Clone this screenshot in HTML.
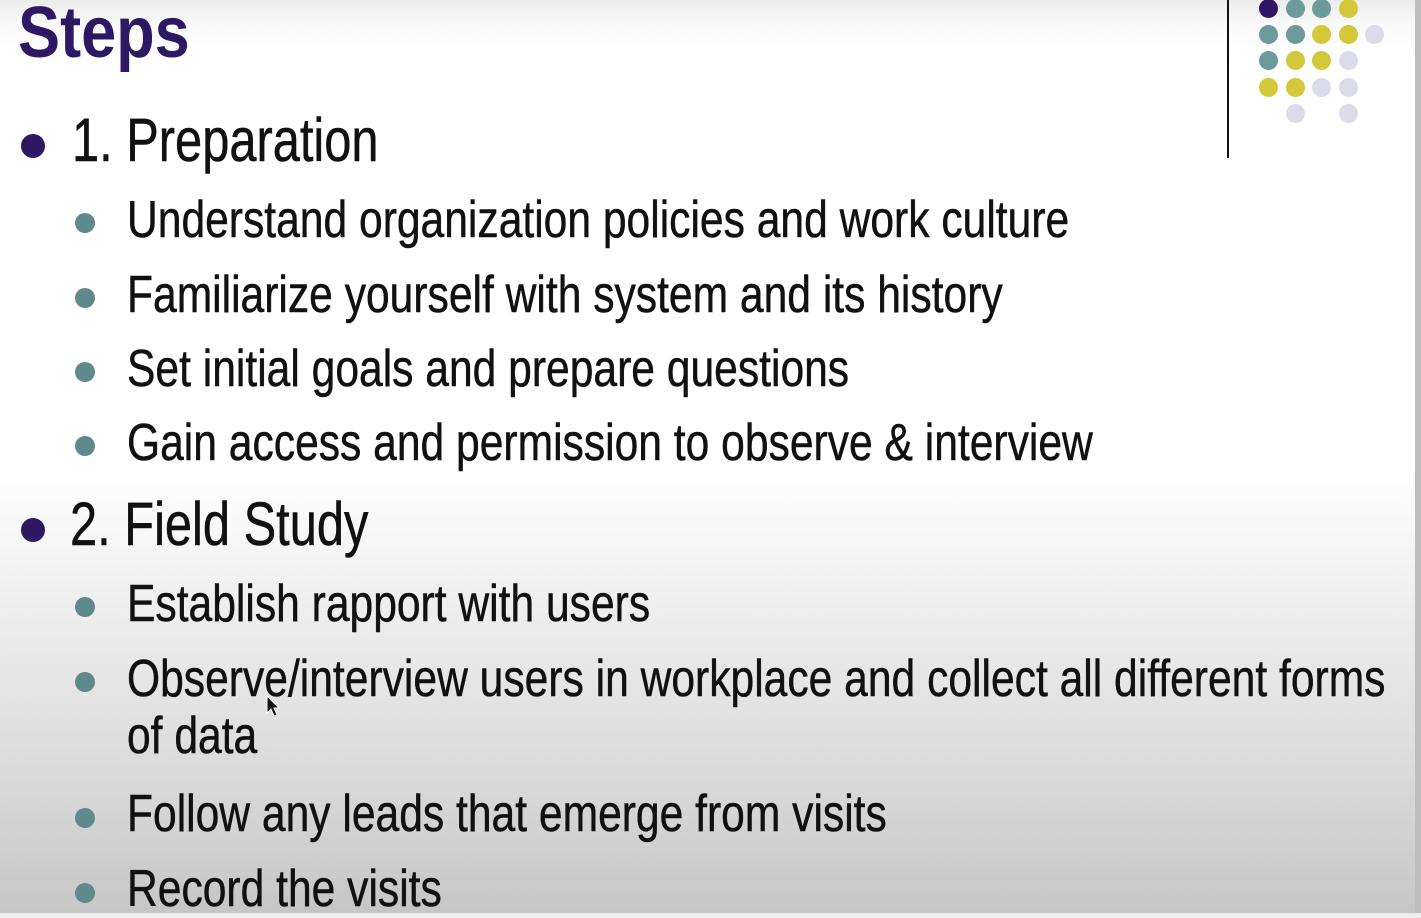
<!DOCTYPE html>
<html><head><meta charset="utf-8"><style>
html,body{margin:0;padding:0}
body{width:1421px;height:913px;position:relative;overflow:hidden;
background:linear-gradient(to bottom,#ececec 0px,#fafafa 25px,#ffffff 60px,#ffffff 470px,#efefef 600px,#dcdcdc 760px,#c6c6c6 913px);
font-family:"Liberation Sans",Arial,sans-serif;}
.t{position:absolute;white-space:nowrap;line-height:1;transform-origin:0 0;color:#111;-webkit-text-stroke:0.5px #111}
.title{font-size:72px;font-weight:bold;color:#2e1763;-webkit-text-stroke:0;transform:scaleX(0.876)}
.l1{font-size:61px;transform:scaleX(0.8)}
.l2{font-size:52px;transform:scaleX(0.819)}
.b1{position:absolute;width:24px;height:24px;border-radius:50%;background:#2e1763}
.b2{position:absolute;width:20px;height:20px;border-radius:50%;background:#5f8a8b}
.d{position:absolute;width:19px;height:19px;border-radius:50%}
</style></head><body>
<div class="t title" style="left:18px;top:-3px">Steps</div>
<div style="position:absolute;left:1227px;top:0;width:2px;height:158px;background:#111"></div>
<div id="dots"></div>
<div style="position:absolute;right:0;top:0;width:6px;height:913px;background:#bdbdbd"></div>

<div class="b1" style="left:21px;top:134px"></div>
<div class="t l1" style="left:72px;top:110px">1. Preparation</div>

<div class="b2" style="left:75px;top:213px"></div>
<div class="t l2" style="left:127px;top:194px">Understand organization policies and work culture</div>
<div class="b2" style="left:75px;top:288px"></div>
<div class="t l2" style="left:127px;top:269px">Familiarize yourself with system and its history</div>
<div class="b2" style="left:75px;top:362px"></div>
<div class="t l2" style="left:127px;top:343px">Set initial goals and prepare questions</div>
<div class="b2" style="left:75px;top:436px"></div>
<div class="t l2" style="left:127px;top:417px">Gain access and permission to observe &amp; interview</div>

<div class="b1" style="left:21px;top:518px"></div>
<div class="t l1" style="left:70px;top:494px">2. Field Study</div>

<div class="b2" style="left:75px;top:597px"></div>
<div class="t l2" style="left:127px;top:578px">Establish rapport with users</div>
<div class="b2" style="left:75px;top:672px"></div>
<div class="t l2" style="left:127px;top:653px">Observe/interview users in workplace and collect all different forms</div>
<div class="t l2" style="left:127px;top:710px">of data</div>
<div class="b2" style="left:75px;top:808px"></div>
<div class="t l2" style="left:127px;top:788px">Follow any leads that emerge from visits</div>
<div class="b2" style="left:75px;top:883px"></div>
<div class="t l2" style="left:127px;top:863px">Record the visits</div>

<svg style="position:absolute;left:266px;top:695px" width="16" height="24"><path d="M1 1 L1 18 L5 14 L8 21 L11 20 L8 13 L13 13 Z" fill="#111" stroke="#fff" stroke-width="1"/></svg>

<script>
const P='#2e1763',T='#6d9a9b',Y='#d2c83a',L='#dcdbea';
const grid=[[P,T,T,Y,null],[T,T,Y,Y,L],[T,Y,Y,L,null],[Y,Y,L,L,null],[null,L,null,L,null]];
const cx=[1268,1295,1321,1348,1374],cy=[8,34,60,87,113];
const c=document.getElementById('dots');
grid.forEach((row,r)=>row.forEach((col,k)=>{if(!col)return;
const d=document.createElement('div');d.className='d';


d.style.left=(cx[k]-9.5)+'px';d.style.top=(cy[r]-9.5)+'px';d.style.background=col;c.appendChild(d);}));
</script>
</body></html>
